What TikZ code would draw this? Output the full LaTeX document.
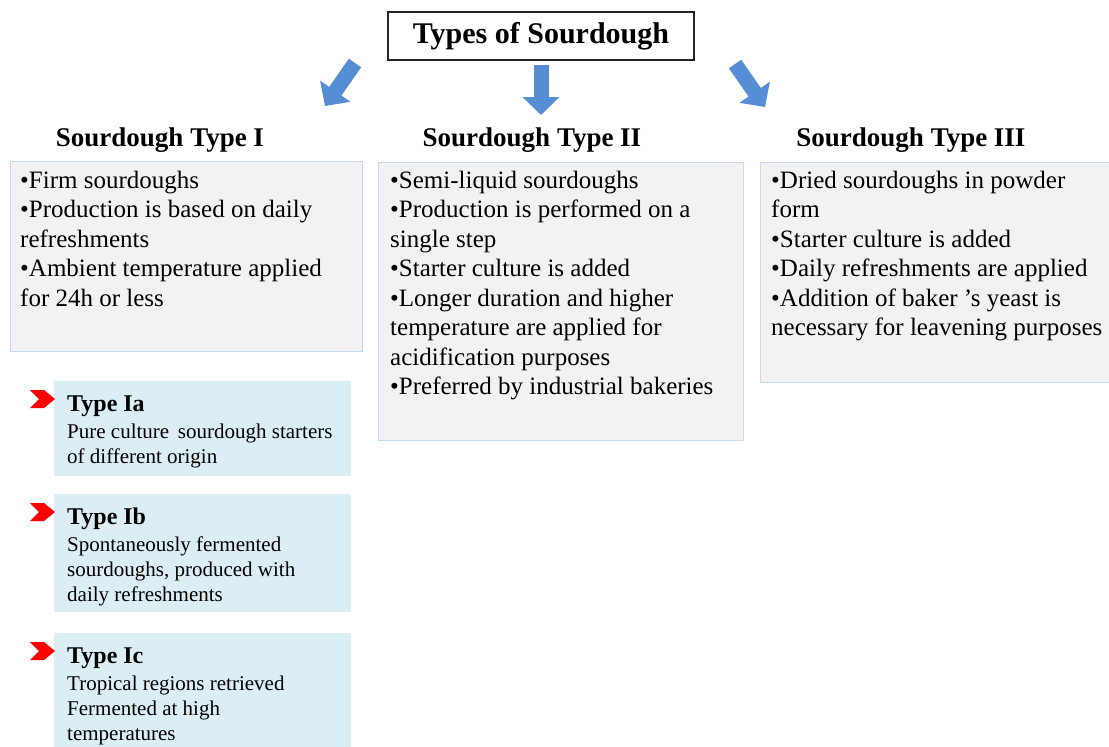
\documentclass[tikz,border=0pt]{standalone}
\usepackage{fontspec}
\setmainfont{Liberation Serif}
\usetikzlibrary{arrows.meta,positioning}
\definecolor{panelfill}{HTML}{F2F2F2}
\definecolor{panelline}{HTML}{C6D9F1}
\definecolor{subfill}{HTML}{DBEEF4}
\definecolor{arrowblue}{HTML}{558ED5}

\begin{document}
\begin{tikzpicture}[x=1pt,y=-1pt,
  panel/.style={draw=panelline,fill=panelfill,line width=1.2pt,anchor=north west,inner sep=0},
  subpanel/.style={fill=subfill,anchor=north west,inner sep=0,minimum width=297},
  bodytext/.style={anchor=north west,inner sep=0,align=left,font=\fontsize{25}{29.5}\selectfont},
  subtext/.style={anchor=north west,inner sep=0,align=left,font=\fontsize{21}{25.3}\selectfont},
  heading/.style={anchor=base,inner sep=0,font=\fontsize{27}{32}\selectfont\bfseries},
  bigarrow/.style={arrowblue,line width=15pt,-{Triangle[width=36pt,length=18pt]}}]
\useasboundingbox (0,0) rectangle (1109,747);

\node[draw=black!85,line width=1.5pt,minimum width=306,minimum height=48,
  font=\fontsize{30}{36}\selectfont\bfseries] (title) at (541,36) {Types of Sourdough};

\coordinate (arIs) at (355,63);   \coordinate (arIe) at (325,106);
\coordinate (arIIs) at (541,65);  \coordinate (arIIe) at (541,115);
\coordinate (arIIIs) at (735,64); \coordinate (arIIIe) at (765,107);
\foreach \a in {I,II,III}{
  \draw[bigarrow] (ar\a s) -- (ar\a e);
}

\node[heading] (headI) at (160,146) {Sourdough Type I};
\node[heading] (headII) at (532,146) {Sourdough Type II};
\node[heading] (headIII) at (911,146) {Sourdough Type III};

\node[panel,minimum width=352,minimum height=190] (boxI) at (10,161) {};
\node[panel,minimum width=365,minimum height=278] (boxII) at (378,162) {};
\node[panel,minimum width=360,minimum height=220] (boxIII) at (760,162) {};

\node[bodytext] (txtI) at ([shift={(10,6.4)}]boxI.north west)
  {\strut•Firm sourdoughs\\•Production is based on daily\\refreshments\\
   •Ambient temperature applied\\for 24h or less};
\node[bodytext] (txtII) at ([shift={(12,5.4)}]boxII.north west)
  {\strut•Semi-liquid sourdoughs\\•Production is performed on a\\single step\\
   •Starter culture is added\\•Longer duration and higher\\temperature are applied for\\
   acidification purposes\\•Preferred by industrial bakeries};
\node[bodytext] (txtIII) at ([shift={(11,5.4)}]boxIII.north west)
  {\strut•Dried sourdoughs in powder\\form\\•Starter culture is added\\
   •Daily refreshments are applied\\•Addition of baker ’s yeast is\\
   necessary for leavening purposes};

\node[subpanel,minimum height=95] (subIa) at (54,381) {};
\node[subpanel,minimum height=118] (subIb) at (54,494) {};
\node[subpanel,minimum height=120] (subIc) at (54,633) {};

\node[subtext] (txtIa) at ([shift={(13,11.1)}]subIa.north west)
  {{\fontsize{24}{27}\selectfont\bfseries\strut Type Ia}\\[1.5pt]
   Pure culture\, sourdough starters\\of different origin};
\node[subtext] (txtIb) at ([shift={(13,11.1)}]subIb.north west)
  {{\fontsize{24}{27}\selectfont\bfseries\strut Type Ib}\\[1.5pt]
   Spontaneously fermented\\sourdoughs, produced with\\daily refreshments};
\node[subtext] (txtIc) at ([shift={(13,11.1)}]subIc.north west)
  {{\fontsize{24}{27}\selectfont\bfseries\strut Type Ic}\\[1.5pt]
   Tropical regions retrieved\\Fermented at high\\temperatures};

\foreach \b in {Ia,Ib,Ic}{
  \fill[red] ([shift={(-24,9)}]sub\b.north west) -- ++(14,0) -- ++(11,9)
    -- ++(-11,9) -- ++(-14,0) -- ++(9,-9) -- cycle;
}
\end{tikzpicture}
\end{document}
